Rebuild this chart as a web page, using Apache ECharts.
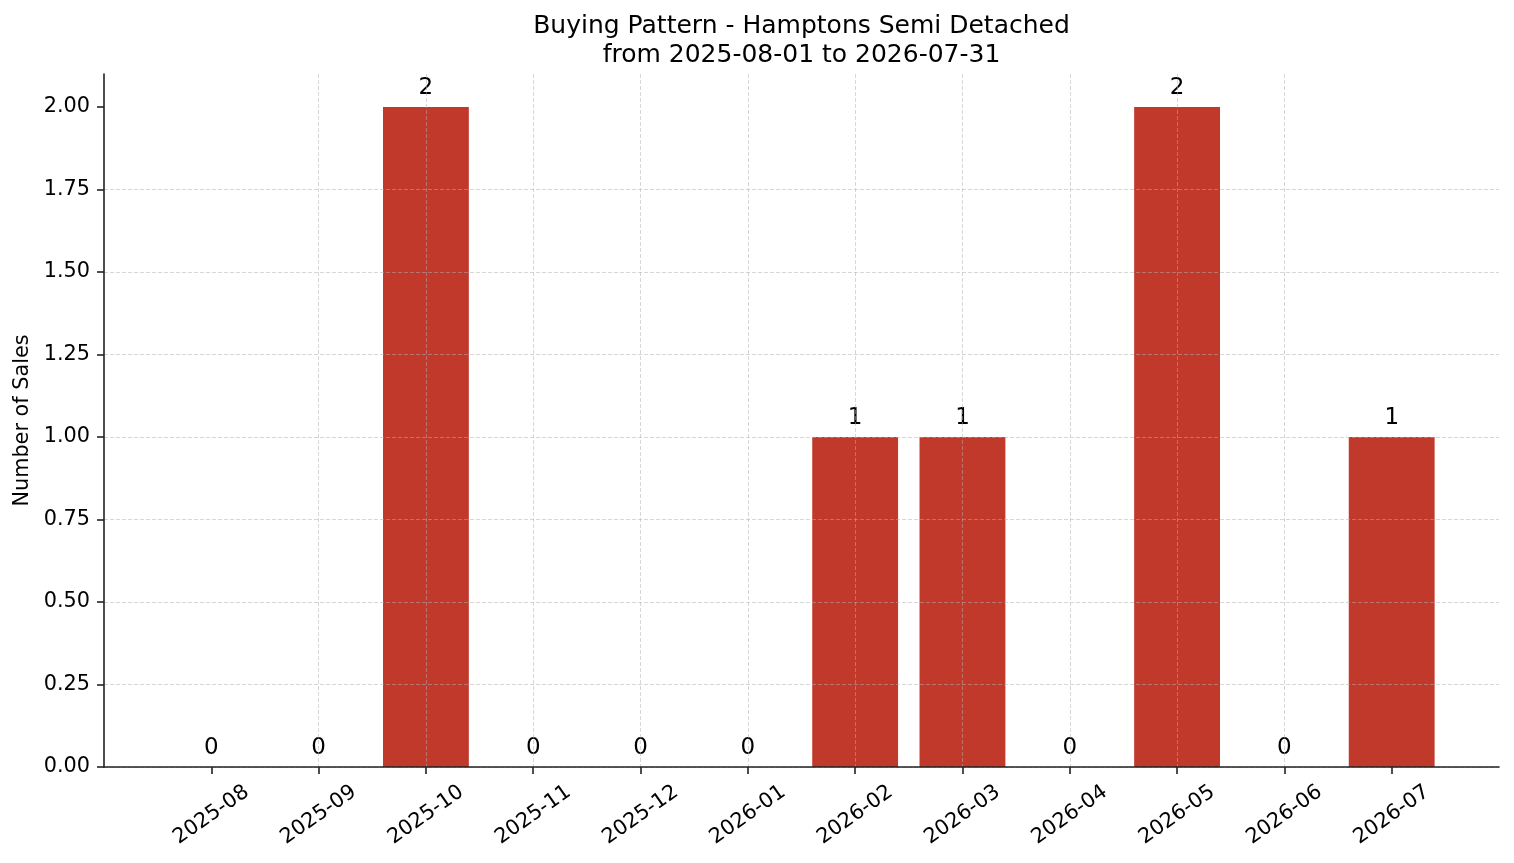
<!DOCTYPE html>
<html>
<head>
<meta charset="utf-8">
<script src="https://cdn.jsdelivr.net/npm/echarts@6/dist/echarts.min.js"></script>
<style>html,body{margin:0;padding:0;background:#fff}#c{width:1514px;height:863px}</style>
</head>
<body>
<div id="c"></div>
<script>
const categories = ['2025-08','2025-09','2025-10','2025-11','2025-12','2026-01','2026-02','2026-03','2026-04','2026-05','2026-06','2026-07'];
const sales = [0, 0, 2, 0, 0, 0, 1, 1, 0, 2, 0, 1];
const yTicks = [0, 0.25, 0.5, 0.75, 1, 1.25, 1.5, 1.75, 2];
const titleText = 'Buying Pattern - Hamptons Semi Detached\nfrom 2025-08-01 to 2026-07-31';
const yName = 'Number of Sales';

const FONT = 'DejaVu Sans';
const chart = echarts.init(document.getElementById('c'), null, {renderer: 'canvas'});
const gridL = 104, gridR = 15, gridT = 74, gridB = 96;
const unitPx = (1514 - gridL - gridR) / (categories.length + 1);
const idx = categories.map((_, i) => i);
const gridLineStyle = {color: 'rgba(176,176,176,0.5)', type: [4, 2], width: 1};

chart.setOption({
  animation: false,
  backgroundColor: '#fff',
  textStyle: {fontFamily: FONT},
  title: {
    text: titleText,
    left: (gridL + (1514 - gridR)) / 2 - 5,
    textAlign: 'center',
    top: 7,
    textStyle: {fontFamily: FONT, fontSize: 25, fontWeight: 'normal', color: '#000', lineHeight: 29}
  },
  grid: {left: gridL, right: gridR, top: gridT, bottom: gridB, containLabel: false},
  xAxis: {
    type: 'value', min: -1, max: categories.length, interval: 1, z: 5,
    axisLine: {show: true, onZero: false, lineStyle: {color: '#222', width: 1.6}},
    axisTick: {show: true, length: 7, lineStyle: {color: '#222', width: 1.6}, customValues: idx},
    axisLabel: {
      customValues: idx,
      formatter: v => (categories[Math.round(v)] !== undefined && Math.abs(v - Math.round(v)) < 1e-6) ? categories[Math.round(v)] : '',
      rotate: 35, align: 'center', verticalAlign: 'middle',
      fontSize: 20.8, color: '#000', fontFamily: FONT, margin: 48
    },
    splitLine: {show: true, showMinLine: false, showMaxLine: false, lineStyle: gridLineStyle}
  },
  yAxis: {
    type: 'value', min: 0, max: 2.1, interval: 0.25, z: 5,
    name: yName, nameLocation: 'middle', nameGap: 71, nameRotate: 90,
    nameTextStyle: {fontFamily: FONT, fontSize: 20.8, color: '#000'},
    axisLine: {show: true, onZero: false, lineStyle: {color: '#222', width: 1.6}},
    axisTick: {show: true, length: 7, lineStyle: {color: '#222', width: 1.6}, customValues: yTicks},
    axisLabel: {
      customValues: yTicks,
      formatter: v => (Math.abs(v / 0.25 - Math.round(v / 0.25)) < 1e-6) ? v.toFixed(2) : '',
      fontSize: 20.8, color: '#000', fontFamily: FONT, margin: 14
    },
    splitLine: {show: true, showMaxLine: false, lineStyle: gridLineStyle}
  },
  series: [{
    type: 'bar',
    data: sales.map((v, i) => [i, v]),
    barWidth: unitPx * 0.8,
    itemStyle: {color: '#c0392b'},
    label: {show: true, position: 'top', distance: 7, fontSize: 23, color: '#000', fontFamily: FONT,
      formatter: p => String(p.value[1])}
  }]
});
</script>
</body>
</html>
